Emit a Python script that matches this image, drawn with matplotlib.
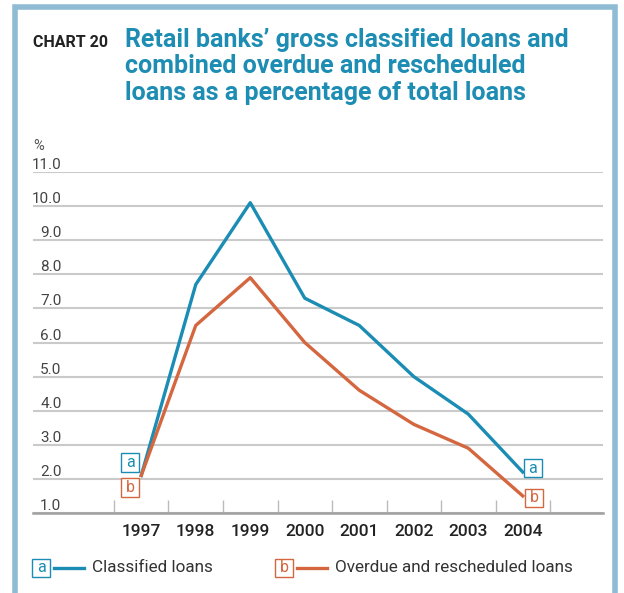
import numpy as np
import matplotlib
matplotlib.use("Agg")
import matplotlib.pyplot as plt
from matplotlib.patches import Rectangle
from matplotlib.lines import Line2D
from matplotlib.path import Path

years = ["1997", "1998", "1999", "2000", "2001", "2002", "2003", "2004"]
classified = [2.1, 7.7, 10.1, 7.3, 6.5, 5.0, 3.9, 2.2]
overdue = [2.1, 6.5, 7.9, 6.0, 4.6, 3.6, 2.9, 1.5]
yticks = np.arange(1, 12)

BLUE = "#1b8db4"
ORANGE = "#d4673f"
FRAME = "#8fbbd5"
GRID = "#cacaca"

plt.rcParams["font.family"] = ["Roboto", "DejaVu Sans"]

W, H = 624, 593
fig = plt.figure(figsize=(W / 100, H / 100), dpi=100)

# pixel helpers (from top-left)
def fx(x):
    return x / W

def fy(y):
    return 1 - y / H

# square box round a single letter
def square_box(x0, y0, width, height, mutation_size):
    s = max(width, height) + 0.2 * mutation_size
    cx, cy = x0 + width / 2, y0 + height / 2
    h = s / 2
    return Path([(cx - h, cy - h), (cx + h, cy - h), (cx + h, cy + h),
                 (cx - h, cy + h), (cx - h, cy - h)], closed=True)

def box_props(color):
    return dict(boxstyle=square_box, fc="white", ec=color, lw=1.0)

# light blue frame round the panel, open at the bottom
fig.add_artist(Rectangle((fx(14.5), fy(640)), fx(614.5) - fx(14.5), fy(7) - fy(640),
                         transform=fig.transFigure, fill=False, ec=FRAME, lw=4.0))

fig.text(fx(33), fy(47), "CHART 20", fontsize=11.5, fontweight="bold", color="#222222",
         va="baseline", ha="left")
fig.text(fx(125), fy(28), "Retail banks\u2019 gross classified loans and\n"
         "combined overdue and rescheduled\n"
         "loans as a percentage of total loans",
         fontsize=18, fontweight="bold", color="#1d8db3", va="top", ha="left",
         linespacing=1.13)

ax = fig.add_axes([fx(33), fy(513), fx(603) - fx(33), fy(172) - fy(513)])
x = np.arange(len(years))
ax.plot(x, classified, color=BLUE, lw=2.4, zorder=3)
ax.plot(x, overdue, color=ORANGE, lw=2.4, zorder=3)

ax.set_ylim(1, 11)
ax.set_xlim(-1.986, 8.472)
ax.set_yticks(yticks)
ax.set_yticklabels([f"{v:.1f}" for v in yticks])
ax.tick_params(axis="y", length=0, pad=-20.5, labelsize=11, labelcolor="#444444")
for t in ax.get_yticklabels():
    t.set_verticalalignment("bottom")
ax.yaxis.grid(True, color=GRID, lw=1.5)
ax.set_axisbelow(True)

ax.set_xticks(x)
ax.set_xticklabels(years)
ax.set_xticks(np.arange(-0.5, len(years)), minor=True)
ax.tick_params(axis="x", which="major", length=0, pad=8, labelsize=12.5, labelcolor="#222222")
for t in ax.get_xticklabels():
    t.set_fontweight("medium")
ax.tick_params(axis="x", which="minor", direction="in", length=9.4, width=1.0, color="#bbbbbb")

for s in ["top", "left", "right"]:
    ax.spines[s].set_visible(False)
ax.spines["bottom"].set_color("#a0a0a0")
ax.spines["bottom"].set_linewidth(1.8)

ax.text(0, 1.055, "%", transform=ax.transAxes, fontsize=10.5, color="#555555",
        ha="left", va="bottom")

# series tags next to the line ends
def tag(letter, xv, yv, dx, dy, color):
    ax.annotate(letter, xy=(xv, yv), xytext=(dx * 0.72, dy * 0.72),
                textcoords="offset points", ha="center", va="center",
                fontsize=11.5, color=color, zorder=4, bbox=box_props(color))

tag("a", x[0], classified[0], -11, 13, BLUE)
tag("b", x[0], overdue[0], -11, -12, ORANGE)
tag("a", x[-1], classified[-1], 10, 4, BLUE)
tag("b", x[-1], overdue[-1], 11.5, -2, ORANGE)

# legend
for letter, label, color, x0 in [("a", "Classified loans", BLUE, 33),
                                  ("b", "Overdue and rescheduled loans", ORANGE, 276)]:
    fig.text(fx(x0 + 8), fy(568), letter, fontsize=11.5, color=color, ha="center", va="center",
             bbox=box_props(color))
    fig.add_artist(Line2D([fx(x0 + 21), fx(x0 + 51)], [fy(568), fy(568)],
                          transform=fig.transFigure, color=color, lw=2.4))
    fig.text(fx(x0 + 59), fy(568), label, fontsize=12.3, color="#333333",
             ha="left", va="center")

fig.savefig("out.png", dpi=100)
